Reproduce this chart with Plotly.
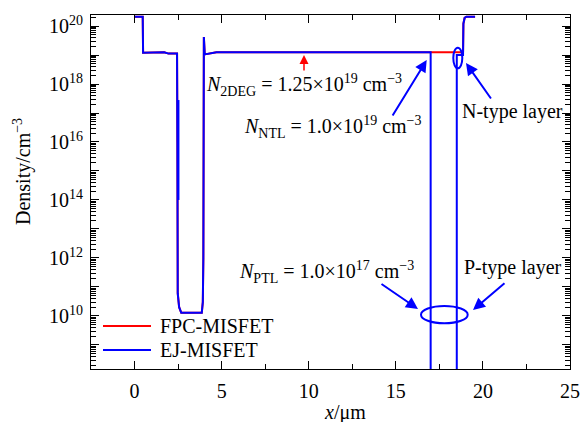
import plotly.graph_objects as go

# Electron density profiles along the channel (x in um, density in cm^-3)
x_fpc = [0.0, 0.47, 0.49, 1.0, 1.7, 1.95, 2.44, 2.46, 2.48, 2.56, 2.68, 3.86, 3.92,
         3.95, 3.98, 4.03, 4.3, 4.7, 10.0, 17.0, 18.5, 18.86, 18.88, 18.95, 19.05, 19.55]
n_fpc = [2.1e20, 2.1e20, 1.2e19, 1.25e19, 1.25e19, 1.12e19, 1.12e19, 1e16, 6e10, 2e10,
         1.3e10, 1.3e10, 3e10, 1e12, 4.2e19, 1.05e19, 1.1e19, 1.25e19, 1.25e19, 1.25e19,
         1.25e19, 1.25e19, 1.2e20, 1.9e20, 2.1e20, 2.1e20]

x_ej = [0.0, 0.47, 0.49, 1.0, 1.7, 1.95, 2.44, 2.46, 2.48, 2.56, 2.68, 3.86, 3.92,
        3.95, 3.98, 4.03, 4.3, 4.7, 10.0, 17.0, 17.0, 18.5, 18.5, 18.86, 18.88, 18.95,
        19.05, 19.55, None, 2.52, 2.52]
n_ej = [2.1e20, 2.1e20, 1.2e19, 1.25e19, 1.25e19, 1.12e19, 1.12e19, 1e16, 6e10, 2e10,
        1.3e10, 1.3e10, 3e10, 1e12, 4.2e19, 1.05e19, 1.1e19, 1.25e19, 1.25e19, 1.25e19,
        1e5, 1e5, 1.0e19, 1.0e19, 1.2e20, 1.9e20, 2.1e20, 2.1e20, None, 2.8e17, 1e14]

series_names = ["FPC-MISFET", "EJ-MISFET"]
series_colors = ["#ff0000", "#0000ff"]

x_ticks = [0, 5, 10, 15, 20, 25]
x_minor = [-2.5, 2.5, 7.5, 12.5, 17.5, 22.5]
y_exponents = list(range(9, 21))
y_labels = ["10<sup>%d</sup>" % k if k % 2 == 0 and k >= 10 else "" for k in y_exponents]

FONT = "Liberation Serif"
W, H = 583, 422
L, R, T, B = 91, 13, 15, 53
pw, ph = W - L - R, H - T - B


def px(xp):
    return (xp - L) / pw


def py(yp):
    return (H - B - yp) / ph


fig = go.Figure()
fig.add_trace(go.Scatter(x=x_fpc, y=n_fpc, mode="lines", name=series_names[0],
                         line=dict(color=series_colors[0], width=2)))
fig.add_trace(go.Scatter(x=x_ej, y=n_ej, mode="lines", name=series_names[1],
                         connectgaps=False,
                         line=dict(color=series_colors[1], width=2)))

axis_common = dict(showgrid=False, zeroline=False, showline=True, linecolor="black",
                   linewidth=1, mirror="allticks", ticks="inside", ticklen=8,
                   tickcolor="black", tickwidth=1, automargin=False,
                   tickfont=dict(family=FONT, size=20, color="black"))

fig.update_xaxes(range=[-2.5, 25], tickmode="array", tickvals=x_ticks,
                 ticktext=[str(v) for v in x_ticks], ticklabelstandoff=4,
                 minor=dict(tickmode="array", tickvals=x_minor, ticks="inside",
                            ticklen=5, tickcolor="black"),
                 **axis_common)
fig.update_yaxes(type="log", range=[8.17, 20.38], tickmode="array",
                 tickvals=[10.0 ** k for k in y_exponents], ticktext=y_labels,
                 ticklabelstandoff=3,
                 minor=dict(tickmode="array",
                            tickvals=[m * 10.0 ** k for k in range(8, 21) for m in range(2, 10)],
                            ticks="inside", ticklen=5, tickcolor="black"),
                 **axis_common)

annotations = [
    dict(x=px(345), y=py(412), text="<i>x</i>/μm"),
    dict(x=px(22), y=py(172), text="Density/cm<sup>−3</sup>", textangle=-90),
    dict(x=px(303.5), y=py(85), text="<i>N</i><sub>2DEG</sub> = 1.25×10<sup>19</sup> cm<sup>−3</sup>"),
    dict(x=px(332.5), y=py(127), text="<i>N</i><sub>NTL</sub> = 1.0×10<sup>19</sup> cm<sup>−3</sup>"),
    dict(x=px(326.5), y=py(272), text="<i>N</i><sub>PTL</sub> = 1.0×10<sup>17</sup> cm<sup>−3</sup>"),
    dict(x=px(512), y=py(112), text="N-type layer"),
    dict(x=px(513), y=py(267), text="P-type layer"),
]
for a in annotations:
    a.update(xanchor="center")

shapes = []

# legend key: line sample followed by the series name
for i, (name, col) in enumerate(zip(series_names, series_colors)):
    yk = 326 + 24 * i
    shapes.append(dict(type="line", xref="paper", yref="paper", x0=px(103), x1=px(151),
                       y0=py(yk), y1=py(yk), line=dict(color=col, width=2)))
    annotations.append(dict(x=px(158), y=py(yk), text=name, xanchor="left"))

for a in annotations:
    a.update(xref="paper", yref="paper", showarrow=False, yanchor="middle",
             font=dict(family=FONT, size=20, color="black"))

# pointer arrows: (head x, head y, tail dx, tail dy, colour, width)
arrows = [
    (426.7, 60, -35, 57, "#0000ff", 2),
    (466, 63, 26, 37, "#0000ff", 2),
    (418, 309, -38, -26, "#0000ff", 2),
    (473, 310, 33, -28, "#0000ff", 2),
    (304, 55, 0, 17, "#ff0000", 1.5),
]
for hx, hy, dx, dy, col, wdt in arrows:
    annotations.append(dict(xref="paper", yref="paper", x=px(hx), y=py(hy), text="",
                            showarrow=True, ax=dx, ay=dy, axref="pixel", ayref="pixel",
                            arrowhead=2, arrowsize=1.2, arrowwidth=wdt,
                            arrowcolor=col, standoff=0))

shapes += [
    dict(type="circle", xref="paper", yref="paper", x0=px(453.3), x1=px(462.3),
         y0=py(68.3), y1=py(47.7), line=dict(color="#0000ff", width=2)),
    dict(type="circle", xref="paper", yref="paper", x0=px(421), x1=px(467.7),
         y0=py(323.3), y1=py(306), line=dict(color="#0000ff", width=2)),
]

fig.update_layout(
    width=W, height=H,
    margin=dict(l=L, r=R, t=T, b=B, autoexpand=False),
    paper_bgcolor="white", plot_bgcolor="white",
    font=dict(family=FONT, size=20, color="black"),
    annotations=annotations, shapes=shapes,
    showlegend=False,
)

fig.write_html("out.html")
